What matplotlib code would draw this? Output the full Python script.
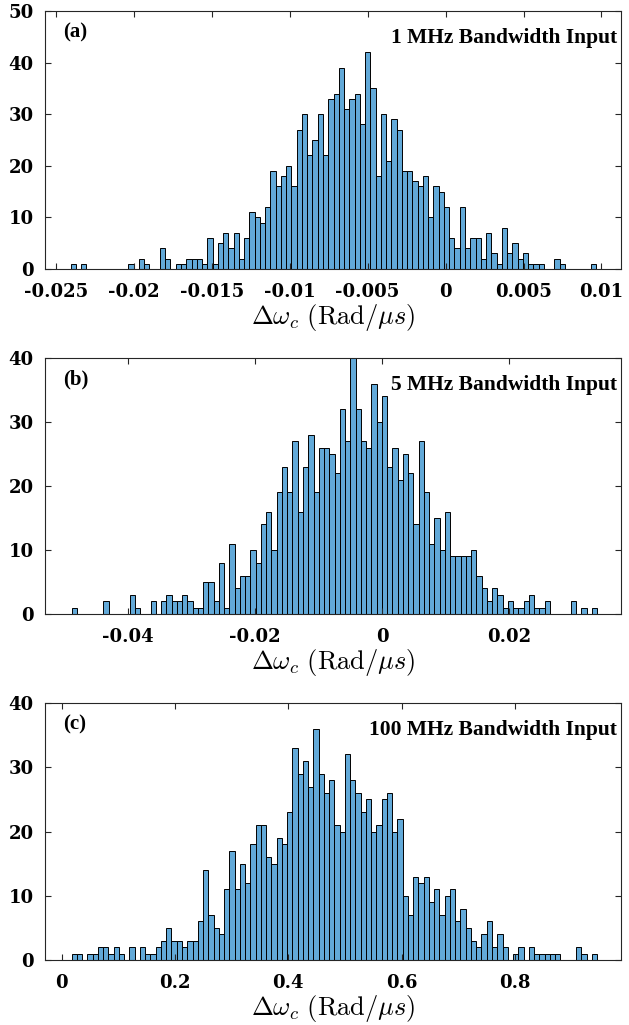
import numpy as np
import matplotlib
matplotlib.use("Agg")
from matplotlib import pyplot as plt
from matplotlib.ticker import FuncFormatter

plt.rcParams["font.family"] = ["Liberation Serif", "DejaVu Serif"]
plt.rcParams["font.weight"] = "bold"
plt.rcParams["mathtext.fontset"] = "cm"
plt.rcParams["axes.unicode_minus"] = False

# bin counts (100 bins each)
counts_a = [1, 0, 1, 0, 0, 0, 0, 0, 0, 0,
            0, 1, 0, 2, 1, 0, 0, 4, 2, 0,
            1, 1, 2, 2, 2, 1, 6, 1, 5, 7,
            4, 7, 2, 6, 11, 10, 9, 12, 19, 16,
            18, 20, 16, 27, 30, 22, 25, 30, 22, 33,
            34, 39, 31, 33, 34, 28, 42, 35, 18, 30,
            21, 29, 27, 19, 19, 17, 16, 18, 10, 16,
            15, 12, 6, 4, 12, 4, 6, 6, 2, 7,
            3, 1, 8, 3, 5, 2, 3, 1, 1, 1,
            0, 0, 2, 1, 0, 0, 0, 0, 0, 1]
counts_b = [1, 0, 0, 0, 0, 0, 2, 0, 0, 0,
            0, 3, 1, 0, 0, 2, 0, 2, 3, 2,
            2, 3, 2, 1, 1, 5, 5, 2, 8, 1,
            11, 4, 6, 6, 10, 8, 14, 16, 10, 19,
            23, 19, 27, 16, 23, 28, 19, 26, 26, 25,
            22, 32, 27, 40, 32, 27, 26, 36, 30, 34,
            23, 26, 21, 25, 22, 14, 27, 19, 11, 15,
            10, 16, 9, 9, 9, 9, 10, 6, 4, 2,
            4, 3, 1, 2, 1, 1, 2, 3, 1, 1,
            2, 0, 0, 0, 0, 2, 0, 1, 0, 1]
counts_c = [1, 1, 0, 1, 1, 2, 2, 1, 2, 1,
            0, 2, 0, 2, 1, 1, 2, 3, 5, 3,
            3, 2, 3, 3, 6, 14, 7, 5, 4, 11,
            17, 11, 15, 12, 18, 21, 21, 16, 15, 19,
            18, 23, 33, 29, 31, 27, 36, 29, 26, 28,
            21, 20, 32, 28, 26, 23, 25, 20, 21, 25,
            26, 20, 22, 10, 7, 13, 12, 13, 9, 11,
            7, 10, 11, 6, 8, 5, 3, 2, 4, 6,
            2, 4, 2, 0, 1, 2, 0, 2, 1, 1,
            1, 1, 1, 0, 0, 0, 2, 1, 0, 1]

# data range covered by the bins
range_a = (-0.02406, 0.00968)
range_b = (-0.04887, 0.03386)
range_c = (0.0176, 0.9449)

xlim_a = (-0.0257, 0.01125)
xlim_b = (-0.0531, 0.0376)
xlim_c = (-0.0295, 0.987)

xticks_a = [-0.025, -0.02, -0.015, -0.01, -0.005, 0, 0.005, 0.01]
xticks_b = [-0.04, -0.02, 0, 0.02]
xticks_c = [0, 0.2, 0.4, 0.6, 0.8]

yticks_a = [0, 10, 20, 30, 40, 50]
yticks_b = [0, 10, 20, 30, 40]
yticks_c = [0, 10, 20, 30, 40]

panel_tags = ["(a)", "(b)", "(c)"]
titles = ["1 MHz Bandwidth Input", "5 MHz Bandwidth Input",
          "100 MHz Bandwidth Input"]

BAR_FC = "#62a9d8"
SPINE = "#262626"

fig = plt.figure(figsize=(6.29, 10.25), dpi=100)
positions = [
    [0.0715, 0.7376, 0.9157, 0.2517],
    [0.0715, 0.4010, 0.9157, 0.2498],
    [0.0715, 0.0634, 0.9157, 0.2507],
]
panels = [
    (counts_a, range_a, xlim_a, xticks_a, yticks_a),
    (counts_b, range_b, xlim_b, xticks_b, yticks_b),
    (counts_c, range_c, xlim_c, xticks_c, yticks_c),
]

for i, (counts, rng, xlim, xticks, yticks) in enumerate(panels):
    ax = fig.add_axes(positions[i])
    counts = np.asarray(counts, dtype=float)
    edges = np.linspace(rng[0], rng[1], len(counts) + 1)
    centers = 0.5 * (edges[:-1] + edges[1:])
    ax.hist(centers, bins=edges, weights=counts, color=BAR_FC,
            edgecolor="black", linewidth=0.7)
    ax.set_xlim(*xlim)
    ax.set_ylim(yticks[0], yticks[-1])
    ax.set_xticks(xticks)
    ax.set_yticks(yticks)
    ax.xaxis.set_major_formatter(FuncFormatter(lambda v, p: "%g" % v))
    ax.tick_params(direction="in", top=True, right=True, length=4,
                   width=0.8, colors=SPINE)
    ax.tick_params(axis="x", pad=10)
    ax.tick_params(axis="y", pad=8)
    for lab in ax.get_xticklabels() + ax.get_yticklabels():
        lab.set_fontfamily("DejaVu Serif")
        lab.set_fontweight("bold")
        lab.set_fontsize(13)
        lab.set_color("black")
    for sp in ax.spines.values():
        sp.set_color(SPINE)
        sp.set_linewidth(0.8)
    ax.set_xlabel(r"$\Delta\omega_c\ (\mathrm{Rad}/\mu s)$", fontsize=19,
                  labelpad=1)
    ax.text(0.031, 0.955, panel_tags[i], transform=ax.transAxes,
            fontsize=15, fontweight="bold", va="top", ha="left")
    ax.text(0.993, 0.935, titles[i], transform=ax.transAxes,
            fontsize=15.5, fontweight="bold", va="top", ha="right")

fig.savefig("out.png", dpi=100)
